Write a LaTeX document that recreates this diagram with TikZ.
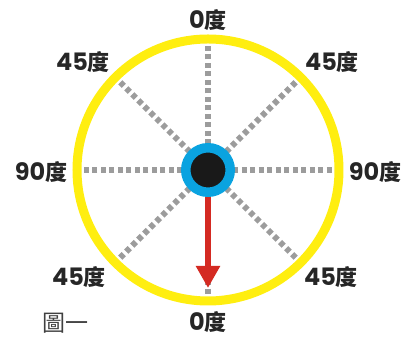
\documentclass[tikz,border=0pt]{standalone}
\usepackage{fontspec}
\newfontfamily\cjk{Noto Sans CJK TC}
\newfontfamily\digits{Poppins}
\usepackage{xcolor}
\usetikzlibrary{arrows.meta}

\definecolor{ringyellow}{HTML}{FFEE10}
\definecolor{hubblue}{HTML}{0AA3E0}
\definecolor{arrowred}{HTML}{D42A22}
\definecolor{spokegray}{HTML}{9C9C9C}

\newcommand\degtxt[1]{{\digits\bfseries\fontsize{24}{24}\selectfont #1}{\cjk\bfseries\fontsize{22}{22}\selectfont 度}}

\begin{document}
\begin{tikzpicture}[x=1pt,y=1pt]
\tikzstyle{deg}=[inner sep=0pt,text=black!85]
\tikzstyle{spoke}=[draw=spokegray,line width=6pt,dash pattern=on 5pt off 3.5pt]

\useasboundingbox (-208,-174) rectangle (200,170);

\draw[ringyellow,line width=9pt] (0,0) circle (131);
\foreach \a in {0,45,...,315}
    \coordinate (rim\a) at (\a:126);
\foreach \a in {0,45,...,315}
    \draw[spoke] (0,0) -- (rim\a);

\node[circle,fill=black!90,draw=hubblue,line width=9.5pt,
      minimum size=44.5pt,inner sep=0pt] (hub) at (0,0) {};
\coordinate (tip) at (0,-118);
\draw[arrowred,line width=6pt,-{Triangle[width=23pt,length=22pt]}] (hub.south) -- (tip);

\node[deg] (top)  at (0,150)     {\degtxt{0}};
\node[deg] (tl)   at (-125,108)  {\degtxt{45}};
\node[deg] (tr)   at (124,108)   {\degtxt{45}};
\node[deg] (left) at (-167,-2)   {\degtxt{90}};
\node[deg] (right) at (167,-2)   {\degtxt{90}};
\node[deg] (bl)   at (-129,-107) {\degtxt{45}};
\node[deg] (br)   at (123,-107)  {\degtxt{45}};
\node[deg] (bot)  at (0,-152)    {\degtxt{0}};

\node[inner sep=0pt,text=black!75] (fig) at (-142,-153)
    {\cjk\fontsize{23}{23}\selectfont 圖一};

\end{tikzpicture}
\end{document}
